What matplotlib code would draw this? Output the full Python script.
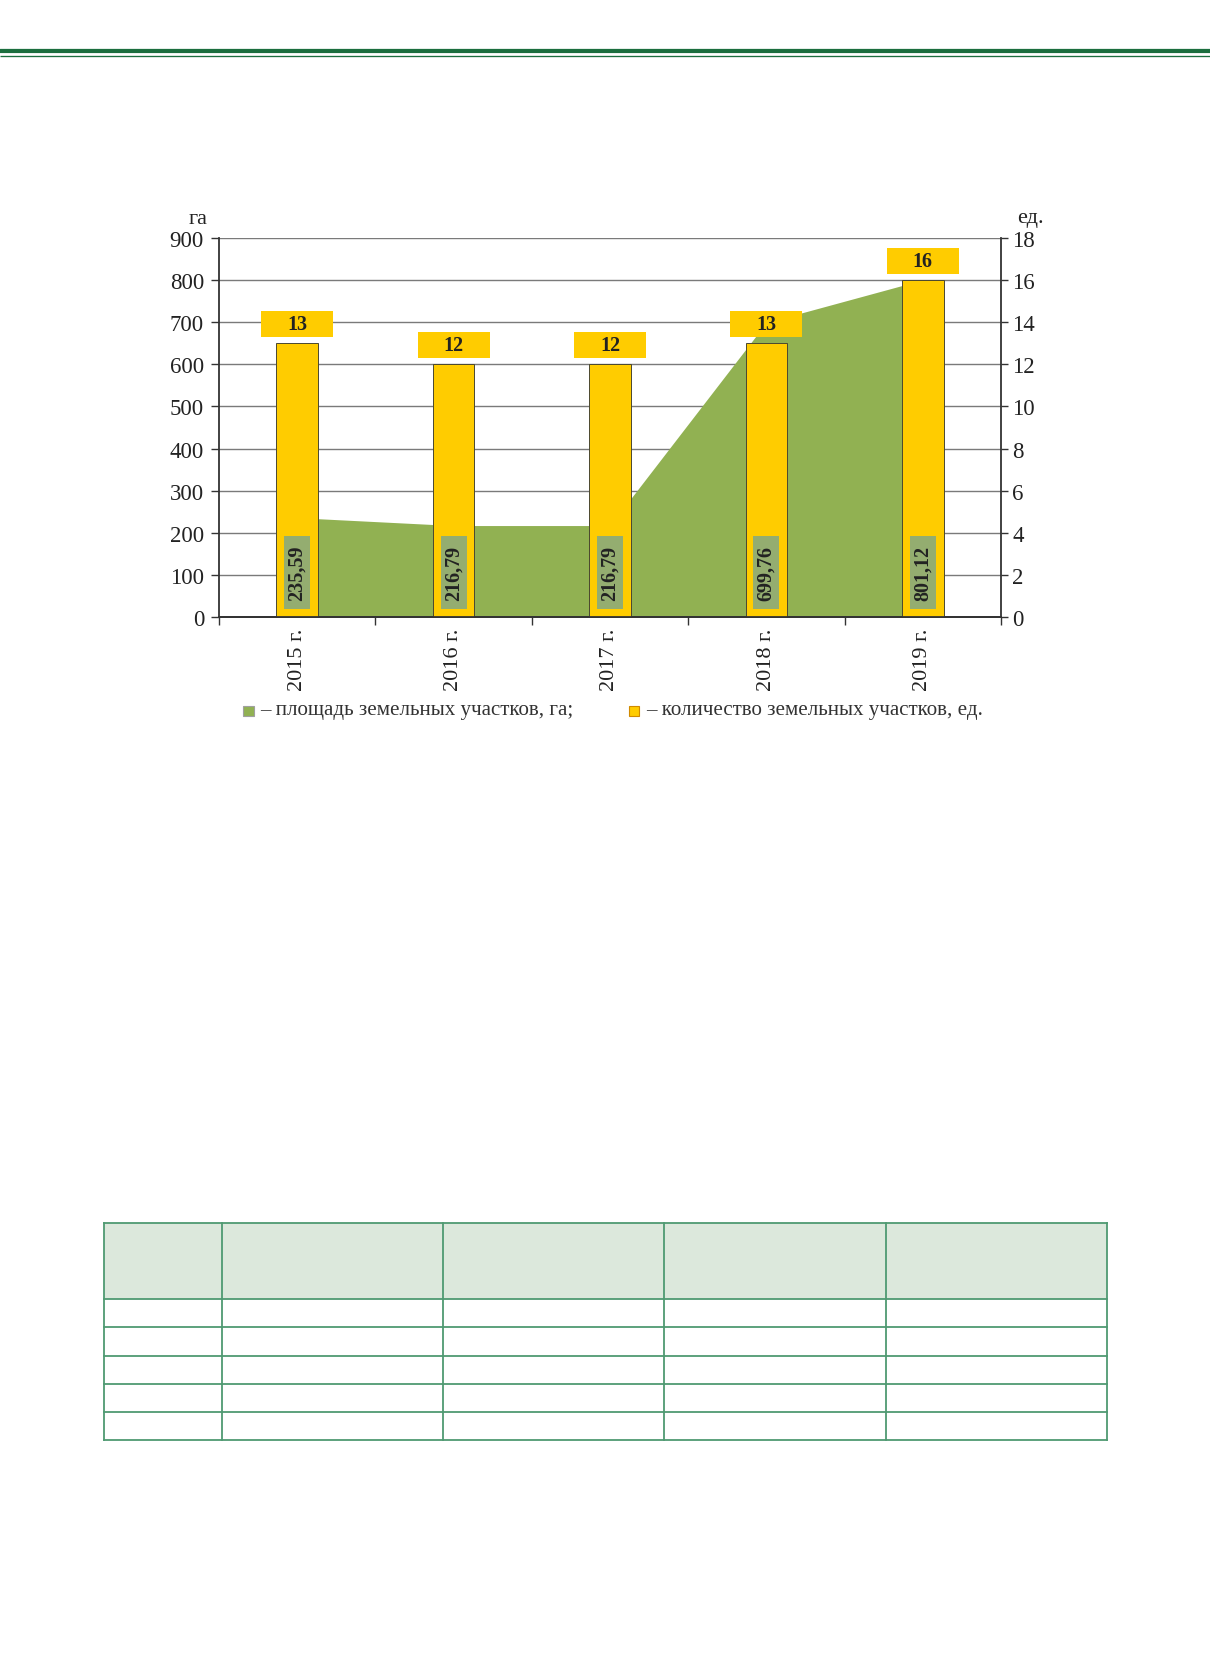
import matplotlib
matplotlib.use('Agg')
import matplotlib.pyplot as plt
from matplotlib.patches import Rectangle

# ---------------- data ----------------
years = ['2015 г.', '2016 г.', '2017 г.', '2018 г.', '2019 г.']
area_ha = [235.59, 216.79, 216.79, 699.76, 801.12]
area_labels = ['235,59', '216,79', '216,79', '699,76', '801,12']
count_units = [13, 12, 12, 13, 16]
left_ticks = list(range(0, 901, 100))
right_ticks = list(range(0, 19, 2))
legend_area = '– площадь земельных участков, га;'
legend_count = '– количество земельных участков, ед.'

# table layout (empty table below the chart)
table_cols = [103.5, 221.6, 442.7, 664.2, 885.6, 1107.2]
table_rows = [1224, 1300.3, 1328.3, 1356.7, 1384.7, 1413, 1440.7]

# ---------------- style ----------------
plt.rcParams['font.family'] = ['Liberation Serif', 'DejaVu Serif']
W, H = 1210, 1681
GREEN_AREA = '#91b152'
YELLOW = '#ffcc00'
LABEL_BOX = '#94ad70'
TXT = '#222222'

fig = plt.figure(figsize=(W / 100, H / 100), dpi=100)

# overlay in pixel coordinates for page decorations
ov = fig.add_axes([0, 0, 1, 1])
ov.set_xlim(0, W)
ov.set_ylim(H, 0)
ov.axis('off')
ov.patch.set_alpha(0)

# header rule lines
ov.plot([0, W], [50.2, 50.2], color='#a9d6b8', lw=0.9, solid_capstyle='butt')
ov.plot([0, W], [52.3, 52.3], color='#1b6e3e', lw=3.0, solid_capstyle='butt')
ov.plot([0, W], [56.5, 56.5], color='#1b6e3e', lw=0.95, solid_capstyle='butt')

# table
ov.add_patch(Rectangle((table_cols[0], table_rows[0]), table_cols[-1] - table_cols[0],
                       table_rows[1] - table_rows[0], facecolor='#dce8dc', edgecolor='none'))
for yv in table_rows:
    ov.plot([table_cols[0], table_cols[-1]], [yv, yv], color='#4f9a72', lw=1.3, solid_capstyle='projecting')
for xv in table_cols:
    ov.plot([xv, xv], [table_rows[0], table_rows[-1]], color='#4f9a72', lw=1.3, solid_capstyle='projecting')

# ---------------- chart ----------------
L, R, T, B = 219, 1001, 239.3, 617.7
ax = fig.add_axes([L / W, 1 - B / H, (R - L) / W, (B - T) / H])
ax2 = ax.twinx()

x = list(range(len(years)))
ax.fill_between(x, 0, area_ha, color=GREEN_AREA, lw=0, zorder=1)
ax.set_xlim(-0.5, len(years) - 0.5)
ax.set_ylim(0, 900)
ax.set_yticks(left_ticks)
ax.yaxis.grid(True, color='#7a7a7a', lw=1.0)
ax.set_axisbelow(True)
ax.patch.set_alpha(0)

ax2.bar(x, count_units, width=0.265, color=YELLOW, edgecolor='#4a4830', lw=0.7, zorder=2)
ax2.set_ylim(0, 18)
ax2.set_yticks(right_ticks)

# value labels for count (above bars)
for xi, v in zip(x, count_units):
    ax2.add_patch(Rectangle((xi - 0.23, v + 0.29), 0.46, 1.24, facecolor=YELLOW,
                            edgecolor='none', zorder=3))
    ax2.text(xi, v + 0.29 + 0.62, str(v), ha='center', va='center', fontsize=14.5,
             fontweight='bold', color=TXT, zorder=4)

# value labels for area (inside bars, rotated)
for xi, lab in zip(x, area_labels):
    ax2.add_patch(Rectangle((xi - 0.083, 0.36), 0.166, 3.47, facecolor=LABEL_BOX,
                            edgecolor='none', zorder=3))
    ax2.text(xi, 0.36 + 3.47 / 2, lab, rotation=90, ha='center', va='center',
             fontsize=14.5, fontweight='bold', color=TXT, zorder=4)

# spines
for a in (ax, ax2):
    a.spines['top'].set_visible(False)
ax.spines['right'].set_visible(False)
ax2.spines['left'].set_visible(False)
for s in ('left', 'bottom'):
    ax.spines[s].set_color('#333333')
    ax.spines[s].set_linewidth(1.3)
ax2.spines['bottom'].set_color('#333333')
ax2.spines['bottom'].set_linewidth(1.3)
ax2.spines['right'].set_color('#333333')
ax2.spines['right'].set_linewidth(1.3)

# ticks
ax.tick_params(axis='y', direction='out', length=5.8, width=1.0, color='#333333',
               labelsize=16.5, labelcolor=TXT, pad=5)
ax2.tick_params(axis='y', direction='out', length=5.2, width=1.0, color='#333333',
                labelsize=16.5, labelcolor=TXT, pad=3)
ax.set_xticks(x)
ax.set_xticklabels(years, rotation=90, fontsize=16, color=TXT)
ax.set_xticks([i - 0.5 for i in range(len(years) + 1)], minor=True)
ax.tick_params(axis='x', which='major', length=0, pad=8)
ax.tick_params(axis='x', which='minor', direction='out', length=5.8, width=1.0, color='#333333')

# axis unit labels
ov.text(198, 219, 'га', ha='center', va='center', fontsize=16, color=TXT)
ov.text(1030, 219, 'ед.', ha='center', va='center', fontsize=16, color=TXT)

# legend
ov.add_patch(Rectangle((243, 706.5), 10.5, 10, facecolor=GREEN_AREA, edgecolor='#a0a0a0', lw=0.8))
ov.text(260, 711, legend_area, ha='left', va='center', fontsize=15.1, color='#333333')
ov.add_patch(Rectangle((628.5, 706.5), 10.5, 10, facecolor=YELLOW, edgecolor='#d08a00', lw=0.8))
ov.text(646, 711, legend_count, ha='left', va='center', fontsize=15.1, color='#333333')

fig.savefig('out.png', dpi=100)
